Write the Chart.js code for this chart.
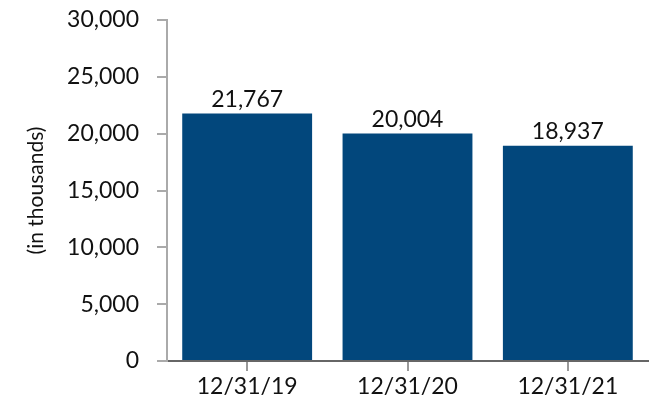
<!DOCTYPE html>
<html><head><meta charset="utf-8">
<script src="https://cdn.jsdelivr.net/npm/chart.js@4"></script>
<style>html,body{margin:0;padding:0;background:#fff}#wrap{width:668px;height:420px}</style>
</head><body><div id="wrap"><canvas id="c"></canvas></div>
<script>
const categories = ["12/31/19", "12/31/20", "12/31/21"];
const values = [21767, 20004, 18937];
const yTicks = [0, 5000, 10000, 15000, 20000, 25000, 30000];
const yTitle = "(in thousands)";

const FONT = "Lato, 'Open Sans', sans-serif";
const fmt = v => v.toLocaleString('en-US');

const labelPlugin = {
  id: 'barLabels',
  afterDatasetsDraw(chart) {
    const ctx = chart.ctx;
    const meta = chart.getDatasetMeta(0);
    ctx.save();
    ctx.font = "23px " + FONT;
    ctx.fillStyle = "#111";
    ctx.textAlign = "center";
    ctx.textBaseline = "bottom";
    meta.data.forEach((bar, i) => {
      ctx.fillText(fmt(values[i]), bar.x, bar.y - 3);
    });
    ctx.restore();
  }
};

new Chart(document.getElementById('c'), {
  type: 'bar',
  data: {
    labels: categories,
    datasets: [{
      data: values,
      backgroundColor: '#02477C',
      categoryPercentage: 1.0,
      barPercentage: 0.81
    }]
  },
  options: {
    responsive: true,
    maintainAspectRatio: false,
    animation: false,
    events: [],
    layout: { padding: { top: 20, right: 20, left: 24, bottom: 10 } },
    plugins: { legend: { display: false }, tooltip: { enabled: false } },
    scales: {
      x: {
        grid: { drawOnChartArea: false, drawTicks: true, tickLength: 10, color: '#999', offset: false, lineWidth: 2 },
        border: { color: '#666', width: 2 },
        ticks: { color: '#111', font: { size: 23, family: FONT }, padding: 2, maxRotation: 0 },
        afterFit(s) { s.height = 49; s.paddingLeft = 0; s.paddingRight = 0; }
      },
      y: {
        min: 0, max: 30000,
        afterBuildTicks(s) { s.ticks = yTicks.map(v => ({ value: v })); },
        grid: { drawOnChartArea: false, drawTicks: true, tickLength: 10, color: '#aaa', lineWidth: 2 },
        border: { color: '#aaa', width: 2 },
        ticks: { color: '#111', font: { size: 23, family: FONT }, padding: 18, callback: v => fmt(v) },
        title: { display: true, text: yTitle, color: '#111', font: { size: 21, family: FONT }, padding: { top: 0, bottom: 6 } },
        afterFit(s) { s.width = 143; s.paddingTop = 0; s.paddingBottom = 0; }
      }
    }
  },
  plugins: [labelPlugin]
});
</script></body></html>
